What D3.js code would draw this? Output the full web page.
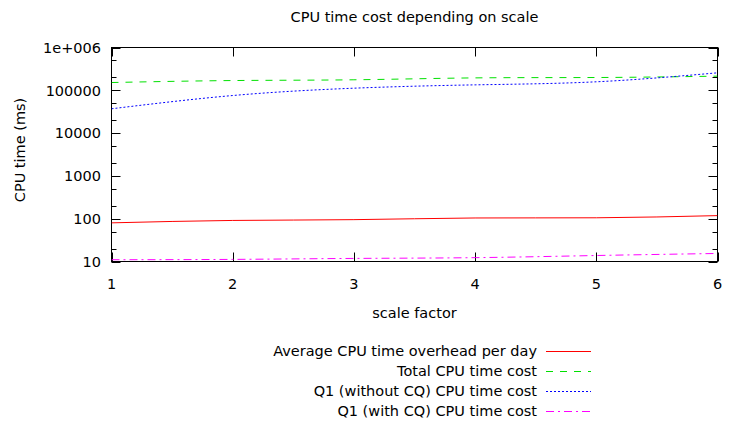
<!DOCTYPE html>
<html>
<head>
<meta charset="utf-8">
<script src="https://cdn.jsdelivr.net/npm/d3@7"></script>
<style>
  html, body { margin: 0; padding: 0; background: #fff; }
  svg { display: block; }
  text { font-family: "DejaVu Sans", Verdana, sans-serif; font-size: 14.5px; fill: #000; }
</style>
</head>
<body>
<svg id="chart" width="747" height="423"></svg>
<script>
const scaleFactors = [1, 2, 3, 4, 5, 6];
const avgOverhead = [80, 91, 95, 104, 105, 118];
const totalCost = [152000, 169000, 176000, 195000, 199000, 214000];
const q1WithoutCQ = [37000, 75500, 112000, 134000, 158000, 256000];
const q1WithCQ = [11, 11.2, 11.8, 12.3, 13.8, 15.4];
const seriesNames = [
  "Average CPU time overhead per day",
  "Total CPU time cost",
  "Q1 (without CQ) CPU time cost",
  "Q1 (with CQ) CPU time cost"
];
const yTickValues = [10, 100, 1000, 10000, 100000, 1000000];
const yTickLabels = ["10", "100", "1000", "10000", "100000", "1e+006"];
const xTickValues = [1, 2, 3, 4, 5, 6];

const svg = d3.select("#chart");
const L = 111.5, R = 717.5, T = 47.5, B = 261.5;

const x = d3.scaleLinear().domain([1, 6]).range([L, R]);
const y = d3.scaleLog().domain([10, 1000000]).range([B, T]);

// minor ticks 2 and 5 in each decade
const minor = [];
for (let d = 10; d < 1000000; d *= 10) { minor.push(2 * d, 5 * d); }

const g = svg.append("g");

const tickColor = "#000";
function drawYTicks(xPos, dir) {
  g.selectAll(null).data(yTickValues).enter().append("line")
    .attr("x1", xPos).attr("x2", xPos + dir * 9)
    .attr("y1", d => Math.round(y(d)) + 0.5).attr("y2", d => Math.round(y(d)) + 0.5)
    .attr("stroke", tickColor).attr("stroke-width", 1);
  g.selectAll(null).data(minor).enter().append("line")
    .attr("x1", xPos).attr("x2", xPos + dir * 5)
    .attr("y1", d => Math.round(y(d)) + 0.5).attr("y2", d => Math.round(y(d)) + 0.5)
    .attr("stroke", tickColor).attr("stroke-width", 1);
}
drawYTicks(L, 1);
drawYTicks(R, -1);

function drawXTicks(yPos, dir) {
  g.selectAll(null).data(xTickValues).enter().append("line")
    .attr("x1", d => Math.round(x(d)) + 0.5).attr("x2", d => Math.round(x(d)) + 0.5)
    .attr("y1", yPos).attr("y2", yPos + dir * 9)
    .attr("stroke", tickColor).attr("stroke-width", 1);
}
drawXTicks(B, -1);
drawXTicks(T, 1);

g.append("rect").attr("x", L).attr("y", T).attr("width", R - L).attr("height", B - T)
  .attr("fill", "none").attr("stroke", "#000").attr("stroke-width", 1);

g.selectAll(null).data(yTickValues).enter().append("text")
  .attr("x", 101).attr("y", d => y(d)).attr("dy", "0.36em")
  .attr("text-anchor", "end")
  .text((d, i) => yTickLabels[i]);
g.selectAll(null).data(xTickValues).enter().append("text")
  .attr("x", d => x(d)).attr("y", B + 27)
  .attr("text-anchor", "middle")
  .text(d => d);

svg.append("text").attr("x", (L + R) / 2).attr("y", 22).attr("text-anchor", "middle")
  .text("CPU time cost depending on scale");
svg.append("text").attr("x", (L + R) / 2).attr("y", 318).attr("text-anchor", "middle")
  .text("scale factor");
svg.append("text").attr("transform", `translate(25,150) rotate(-90)`)
  .attr("text-anchor", "middle").text("CPU time (ms)");

const seriesData = [avgOverhead, totalCost, q1WithoutCQ, q1WithCQ];
const colors = ["#ff0000", "#00e000", "#0000ff", "#ff00ff"];
const dashes = [null, "7,7", "2,2", "8,4,2,4"];

const line = d3.line()
  .x((d, i) => x(scaleFactors[i]))
  .y(d => y(d))
  .curve(d3.curveNatural);

const clip = svg.append("clipPath").attr("id", "clip");
clip.append("rect").attr("x", L).attr("y", T).attr("width", R - L).attr("height", B - T);

seriesData.forEach((vals, k) => {
  svg.append("path").datum(vals)
    .attr("clip-path", "url(#clip)")
    .attr("d", line)
    .attr("fill", "none")
    .attr("stroke", colors[k])
    .attr("stroke-width", 1)
    .attr("stroke-dasharray", dashes[k]);
});

const legY = [351, 371, 391, 411];
const leg = svg.append("g");
seriesNames.forEach((name, k) => {
  leg.append("text").attr("x", 537).attr("y", legY[k]).attr("dy", "0.36em")
    .attr("text-anchor", "end").text(name);
  leg.append("line").attr("x1", 546).attr("x2", 591)
    .attr("y1", legY[k] + 0.5).attr("y2", legY[k] + 0.5)
    .attr("stroke", colors[k]).attr("stroke-width", 1)
    .attr("stroke-dasharray", dashes[k]);
});
</script>
</body>
</html>
